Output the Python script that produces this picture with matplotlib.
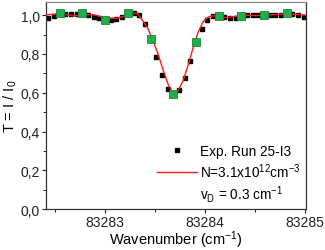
import matplotlib
matplotlib.use("Agg")
import matplotlib.pyplot as plt
from matplotlib.lines import Line2D
from matplotlib.ticker import MultipleLocator, FuncFormatter

plt.rcParams['font.family'] = ['Liberation Sans', 'DejaVu Sans']
plt.rcParams['mathtext.fontset'] = 'custom'
plt.rcParams['mathtext.rm'] = 'Liberation Sans'
plt.rcParams['mathtext.it'] = 'Liberation Sans:italic'

# experimental points (wavenumber, transmission)
exp_x = [83282.435, 83282.492, 83282.548, 83282.605, 83282.662, 83282.719,
         83282.775, 83282.832, 83282.889, 83282.945, 83283.002, 83283.059,
         83283.115, 83283.172, 83283.229, 83283.286, 83283.342, 83283.399,
         83283.456, 83283.512, 83283.569, 83283.626, 83283.682, 83283.739,
         83283.796, 83283.853, 83283.909, 83283.966, 83284.023, 83284.079,
         83284.136, 83284.193, 83284.249, 83284.306, 83284.363, 83284.420,
         83284.476, 83284.533, 83284.590, 83284.646, 83284.703, 83284.760,
         83284.816, 83284.873, 83284.930, 83284.987]
exp_y = [0.983, 0.997, 1.010, 1.007, 1.008, 1.008,
         1.010, 1.000, 0.993, 0.986, 0.976, 0.976,
         0.980, 0.993, 1.010, 1.013, 1.000, 0.953,
         0.878, 0.783, 0.690, 0.620, 0.593, 0.615,
         0.678, 0.766, 0.861, 0.929, 0.976, 0.997,
         0.997, 0.990, 0.986, 0.986, 0.997, 1.000,
         1.000, 1.000, 1.000, 1.000, 1.003, 1.003,
         1.010, 1.007, 1.003, 0.993]
# highlighted points (every fourth)
hl_idx = [2, 6, 10, 14, 18, 22, 26, 30, 34, 38, 42]

# fitted curve
fit_x = [83282.41, 83282.48, 83282.58, 83282.68, 83282.78, 83282.88, 83282.98,
         83283.05, 83283.12, 83283.19, 83283.25, 83283.32, 83283.38, 83283.43,
         83283.48, 83283.53, 83283.58, 83283.63, 83283.67, 83283.70, 83283.73,
         83283.78, 83283.83, 83283.88, 83283.93, 83283.98, 83284.03, 83284.08,
         83284.15, 83284.23, 83284.31, 83284.40, 83284.50, 83284.60, 83284.70,
         83284.80, 83284.90, 83285.01]
fit_y = [1.002, 1.005, 1.007, 0.996, 1.002, 1.003, 0.990,
         0.984, 0.985, 0.995, 1.012, 1.010, 0.970, 0.930,
         0.870, 0.800, 0.720, 0.645, 0.605, 0.598, 0.610,
         0.660, 0.740, 0.830, 0.910, 0.965, 0.990, 0.997,
         0.990, 0.988, 0.995, 1.000, 0.998, 1.000, 1.003,
         1.007, 1.005, 1.000]

fig = plt.figure(figsize=(3.25, 2.51), dpi=100)
ax = fig.add_axes([0.1415, 0.163, 0.80, 0.825])

ax.plot(exp_x, exp_y, 's', color='black', markersize=3.5, zorder=2)
ax.plot(fit_x, fit_y, '-', color='#ff1a1a', lw=1.0, zorder=3)
ax.plot([exp_x[i] for i in hl_idx], [exp_y[i] for i in hl_idx], 's',
        color='#1fae4a', mec='#14863a', mew=0.6, markersize=5.8, zorder=4)

ax.set_xlim(83282.41, 83285.01)
ax.set_ylim(0, 1.068)
ax.xaxis.set_major_locator(MultipleLocator(1))
ax.xaxis.set_minor_locator(MultipleLocator(0.5))
ax.yaxis.set_major_locator(MultipleLocator(0.2))
ax.yaxis.set_minor_locator(MultipleLocator(0.1))
ax.xaxis.set_major_formatter(FuncFormatter(lambda v, p: '%d' % round(v)))
ax.yaxis.set_major_formatter(FuncFormatter(lambda v, p: ('%.1f' % v).replace('.', ',')))
ax.tick_params(which='major', direction='out', length=3, width=0.8, labelsize=10,
               colors='#222222', pad=1.5)
ax.tick_params(which='minor', direction='out', length=2, width=0.6)
for s in ax.spines.values():
    s.set_color('#333333')
    s.set_linewidth(0.9)
ax.spines['top'].set_color('#888888')

ax.set_xlabel('Wavenumber (cm$^{-1}$)', fontsize=10.5, labelpad=-0.5)
ax.set_ylabel('T = I / I$_0$', fontsize=10.5, labelpad=1)

handles = [Line2D([], [], ls='none', marker='s', color='black', markersize=3.5),
           Line2D([], [], color='#ff1a1a', lw=1.0),
           Line2D([], [], ls='none')]
labels = ['Exp. Run 25-I3', 'N=3.1x10$^{12}$cm$^{-3}$', 'v$_\\mathrm{D}$ = 0.3 cm$^{-1}$']
ax.legend(handles, labels, loc='lower right', frameon=False, fontsize=9.8,
          handlelength=2.9, handletextpad=0.25, labelspacing=0.22,
          borderaxespad=0.0, bbox_to_anchor=(1.0, 0.0))

fig.savefig('out.png', dpi=100)
